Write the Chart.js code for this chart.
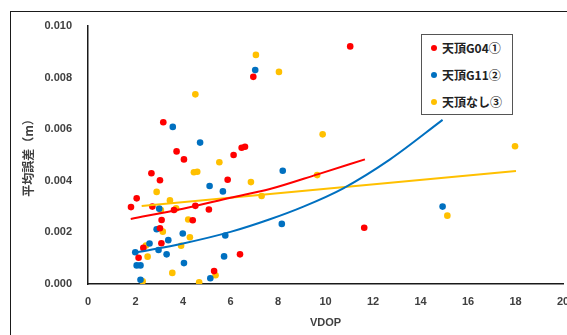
<!DOCTYPE html>
<html>
<head>
<meta charset="utf-8">
<script src="https://cdn.jsdelivr.net/npm/chart.js@4"></script>
<style>
  html, body { margin: 0; padding: 0; background: #fff; overflow: hidden; }
  #wrap { position: relative; width: 567px; height: 335px; }
  #frame { position: absolute; left: 10px; top: 11px; width: 700px; height: 500px;
           border: 1.5px solid #1a1a1a; box-sizing: border-box; pointer-events: none; }
  #legend { position: absolute; left: 421px; top: 34px; width: 92px; height: 81px;
            border: 1.5px solid #555; box-sizing: border-box; background: #fff;
            font-family: "Noto Sans CJK JP", sans-serif; font-weight: bold; font-size: 12px; color: #222; }
  .item { position: absolute; left: 20px; white-space: nowrap; line-height: 14px; }
  .dot { position: absolute; left: -11px; top: 4px; width: 6px; height: 6px; border-radius: 50%; }
</style>
</head>
<body>
<div id="wrap">
  <canvas id="chart" width="567" height="335"></canvas>
  <div id="frame"></div>
  <div id="legend"></div>
</div>
<script>
// scatter points [VDOP, 平均誤差]
const seriesNames = ['天頂G04①', '天頂G11②', '天頂なし③'];
const seriesColors = ['#FF0000', '#0070C0', '#FFC000'];

const g04Points = [
  [3.17, 0.00627], [3.73, 0.00514], [4.04, 0.00483], [2.67, 0.00429], [3.03, 0.00402],
  [2.05, 0.00332], [1.81, 0.00298], [2.71, 0.00300], [3.10, 0.00248], [3.62, 0.00287],
  [4.52, 0.00303], [5.09, 0.00289], [4.41, 0.00247], [3.03, 0.00216], [3.09, 0.00158],
  [2.33, 0.00140], [2.13, 0.00102], [5.31, 0.00050], [6.40, 0.00115], [5.88, 0.00404],
  [6.13, 0.00500], [6.47, 0.00528], [6.61, 0.00532], [6.96, 0.00803], [11.04, 0.00921],
  [11.63, 0.00218]
];
const g11Points = [
  [3.57, 0.00609], [4.72, 0.00548], [7.04, 0.00829], [5.12, 0.00380], [5.68, 0.00359],
  [8.20, 0.00439], [3.00, 0.00292], [2.89, 0.00212], [3.99, 0.00196], [3.38, 0.00170],
  [2.59, 0.00157], [2.97, 0.00132], [3.31, 0.00115], [1.99, 0.00123], [2.05, 0.00072],
  [2.21, 0.00072], [2.21, 0.00016], [4.04, 0.00081], [5.15, 0.00022], [5.73, 0.00107],
  [5.78, 0.00188], [8.16, 0.00233], [14.93, 0.00300]
];
const nonePoints = [
  [4.52, 0.00735], [7.07, 0.00888], [8.04, 0.00822], [9.88, 0.00580], [17.98, 0.00534],
  [5.53, 0.00472], [4.46, 0.00433], [4.60, 0.00435], [2.89, 0.00357], [6.86, 0.00395],
  [3.45, 0.00324], [3.71, 0.00293], [3.07, 0.00287], [7.31, 0.00341], [9.65, 0.00422],
  [4.22, 0.00250], [3.15, 0.00203], [4.29, 0.00181], [2.44, 0.00149], [3.92, 0.00148],
  [2.51, 0.00106], [3.55, 0.00043], [2.30, 0.00010], [4.68, 0.00007], [5.37, 0.00034],
  [15.13, 0.00265]
];

// trend lines
const g04Trend = [[1.8, 0.00252], [4, 0.00292], [6, 0.00334], [7.66, 0.00368], [9.7, 0.00426], [11.66, 0.00483]];
const g11Trend = [[2.05, 0.00122], [4, 0.00157], [6, 0.00202], [7.66, 0.00251], [9.07, 0.00300],
                  [10.75, 0.00371], [12.72, 0.00483], [14.93, 0.00636]];
const noneTrend = [[2.26, 0.00302], [18.02, 0.00438]];

const xTicks = [0, 2, 4, 6, 8, 10, 12, 14, 16, 18, 20];
const yTicks = ['0.000', '0.002', '0.004', '0.006', '0.008', '0.010'];

const toXY = arr => arr.map(p => ({ x: p[0], y: p[1] }));

const pointSets = [g04Points, g11Points, nonePoints];
const trendSets = [g04Trend, g11Trend, noneTrend];

const datasets = [];
trendSets.forEach((t, i) => {
  datasets.push({
    label: seriesNames[i] + ' trend',
    data: toXY(t),
    showLine: true,
    borderColor: seriesColors[i],
    borderWidth: 2,
    pointRadius: 0,
    cubicInterpolationMode: 'monotone',
    order: 0
  });
});
pointSets.forEach((p, i) => {
  datasets.push({
    label: seriesNames[i],
    data: toXY(p),
    backgroundColor: seriesColors[i],
    borderColor: seriesColors[i],
    borderWidth: 0,
    pointRadius: 3.3,
    order: 1
  });
});

const tickFont = { family: '"Liberation Sans", sans-serif', size: 11, weight: 'bold' };

new Chart(document.getElementById('chart'), {
  type: 'scatter',
  data: { datasets },
  options: {
    responsive: false,
    animation: false,
    layout: { padding: { left: 0, right: 4, top: 26, bottom: 0 } },
    plugins: { legend: { display: false }, tooltip: { enabled: false } },
    scales: {
      x: {
        min: 0, max: 20,
        afterBuildTicks: s => { s.ticks = xTicks.map(v => ({ value: v })); },
        afterFit: s => { s.height = 51; s.paddingRight = 0; s.paddingLeft = 0; },
        grid: { display: false, drawTicks: false },
        border: { display: true, color: '#1a1a1a', width: 1.5 },
        ticks: { font: tickFont, color: '#404040', padding: 11, maxRotation: 0, autoSkip: false },
        title: { display: true, text: 'VDOP', font: tickFont, color: '#404040', padding: { top: 0, bottom: 5 } }
      },
      y: {
        min: 0, max: 0.01,
        afterBuildTicks: s => { s.ticks = yTicks.map(v => ({ value: parseFloat(v) })); },
        afterFit: s => { s.width = 88; s.paddingTop = 0; s.paddingBottom = 0; },
        grid: { display: false, drawTicks: false },
        border: { display: true, color: '#1a1a1a', width: 1.5 },
        ticks: {
          font: tickFont, color: '#404040', padding: 16,
          callback: v => yTicks.find(t => parseFloat(t) === v) || ''
        },
        title: {
          display: true, text: '平均誤差（m）', color: '#404040',
          font: { family: '"Noto Sans CJK JP", sans-serif', size: 12, weight: 'bold' },
          padding: { top: 21, bottom: 0 }
        }
      }
    }
  }
});

// legend
const legend = document.getElementById('legend');
seriesNames.forEach((name, i) => {
  const item = document.createElement('div');
  item.className = 'item';
  item.style.top = (6 + i * 27) + 'px';
  item.innerHTML = '<span class="dot" style="background:' + seriesColors[i] + '"></span>' + name;
  legend.appendChild(item);
});
</script>
</body>
</html>
